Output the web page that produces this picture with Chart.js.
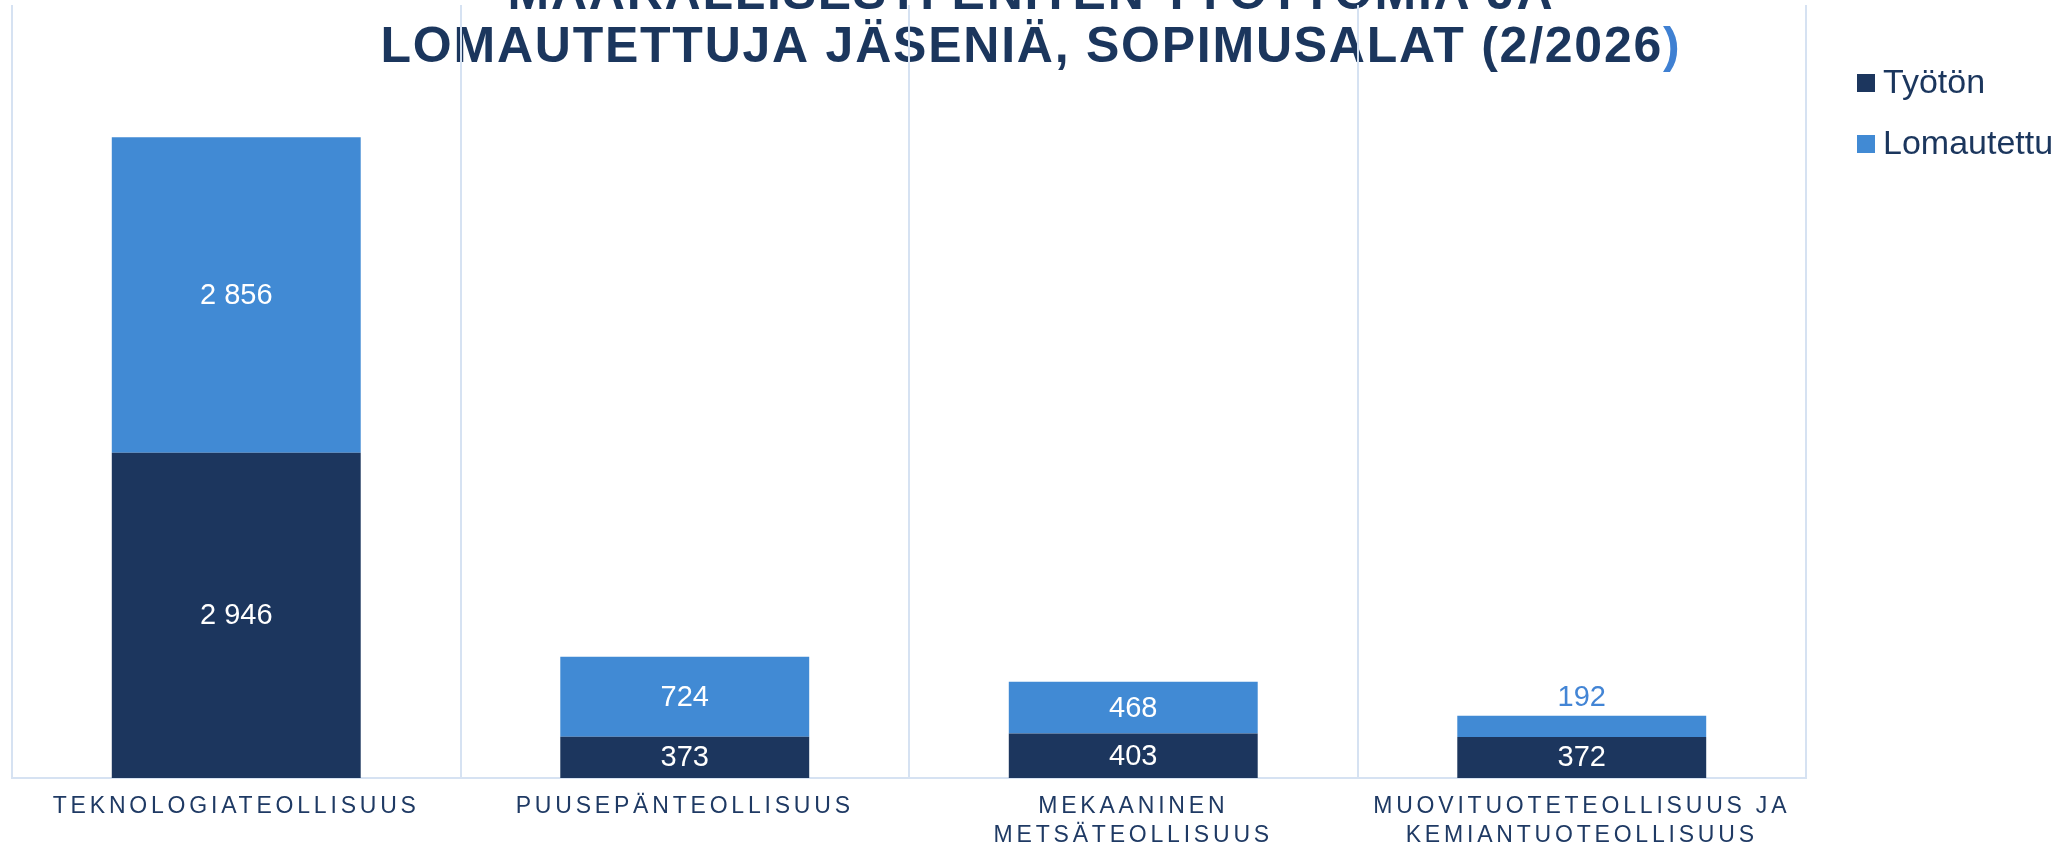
<!DOCTYPE html>
<html><head><meta charset="utf-8">
<script src="https://cdn.jsdelivr.net/npm/chart.js@4.4.1/dist/chart.umd.min.js"></script>
<style>html,body{margin:0;padding:0;background:#fff;overflow:hidden}#wrap{width:2067px;height:847px;position:relative}</style>
</head><body><div id="wrap"><canvas id="c" width="2067" height="847"></canvas></div>
<script>
const categories = ['TEKNOLOGIATEOLLISUUS', 'PUUSEPÄNTEOLLISUUS', ['MEKAANINEN', 'METSÄTEOLLISUUS'], ['MUOVITUOTETEOLLISUUS JA', 'KEMIANTUOTEOLLISUUS']];
const seriesNames = ['Työtön', 'Lomautettu'];
const tyoton = [2946, 373, 403, 372];
const lomautettu = [2856, 724, 468, 192];
const titleLine1 = 'MÄÄRÄLLISESTI ENITEN TYÖTTÖMIÄ JA';
const titleLine2 = 'LOMAUTETTUJA JÄSENIÄ, SOPIMUSALAT (2/2026';
const titleClose = ')';

const DARK = '#1C365E';
const LIGHT = '#418AD4';
const NAVY = '#1B365D';
const GRID = '#D6E2F2';
const FONT = '"Liberation Sans", Arial, sans-serif';

function fmt(v) { return String(v).replace(/\B(?=(\d{3})+(?!\d))/g, ' '); }

const customDraw = {
  id: 'customDraw',
  beforeDraw(chart) {
    const ctx = chart.ctx;
    ctx.save();
    ctx.fillStyle = NAVY;
    ctx.font = 'bold 50px ' + FONT;
    ctx.letterSpacing = '1.76px';
    ctx.textBaseline = 'alphabetic';
    ctx.textAlign = 'center';
    ctx.fillText(titleLine1, 1031, 9);
    ctx.textAlign = 'left';
    const w2 = ctx.measureText(titleLine2).width;
    const wc = ctx.measureText(titleClose).width;
    const x0 = 1031 - (w2 + wc) / 2;
    ctx.fillText(titleLine2, x0, 62);
    ctx.fillStyle = '#3F80D2';
    ctx.fillText(titleClose, x0 + w2, 62);
    ctx.restore();
    ctx.letterSpacing = '3.8px';
  },
  beforeDatasetsDraw(chart) {
    chart.ctx.letterSpacing = '0px';
  },
  afterDatasetsDraw(chart) {
    const ctx = chart.ctx;
    ctx.save();
    ctx.letterSpacing = '0px';
    ctx.font = '29px ' + FONT;
    ctx.textAlign = 'center';
    ctx.textBaseline = 'middle';
    chart.data.datasets.forEach((ds, di) => {
      const meta = chart.getDatasetMeta(di);
      meta.data.forEach((bar, i) => {
        const p = bar.getProps(['x', 'y', 'base'], true);
        const h = Math.abs(p.base - p.y);
        const txt = fmt(ds.data[i]);
        if (h >= 32) {
          ctx.fillStyle = '#FFFFFF';
          ctx.fillText(txt, p.x, (p.y + p.base) / 2 + 1);
        } else {
          ctx.fillStyle = '#4385D5';
          ctx.fillText(txt, p.x, p.y - 18);
        }
      });
    });
    ctx.restore();
  },
  afterDraw(chart) {
    const ctx = chart.ctx;
    ctx.save();
    ctx.letterSpacing = '0px';
    ctx.font = '34px ' + FONT;
    ctx.textBaseline = 'alphabetic';
    ctx.textAlign = 'left';
    const ys = [74, 135];
    chart.data.datasets.forEach((ds, di) => {
      ctx.fillStyle = ds.backgroundColor;
      ctx.fillRect(1857, ys[di], 18, 18);
      ctx.fillStyle = NAVY;
      ctx.fillText(ds.label, 1883, ys[di] + 19);
    });
    ctx.restore();
  }
};

new Chart(document.getElementById('c'), {
  type: 'bar',
  data: {
    labels: categories,
    datasets: [
      { label: seriesNames[0], data: tyoton, backgroundColor: DARK, barPercentage: 0.555, categoryPercentage: 1 },
      { label: seriesNames[1], data: lomautettu, backgroundColor: LIGHT, barPercentage: 0.555, categoryPercentage: 1 }
    ]
  },
  options: {
    responsive: false,
    animation: false,
    devicePixelRatio: 1,
    layout: { padding: { left: 12, right: 261, top: 5, bottom: 0 } },
    plugins: { legend: { display: false }, title: { display: false }, tooltip: { enabled: false } },
    scales: {
      x: {
        stacked: true,
        grid: { color: GRID, lineWidth: 2, offset: true, drawTicks: false },
        border: { display: true, color: GRID, width: 2 },
        ticks: { color: '#1F3A64', padding: 14, font: { family: FONT, size: 23, lineHeight: '29px' }, maxRotation: 0, autoSkip: false },
        afterFit(s) { s.height = 69; }
      },
      y: { stacked: true, display: false, min: 0, max: 7000 }
    }
  },
  plugins: [customDraw]
});
</script></body></html>
